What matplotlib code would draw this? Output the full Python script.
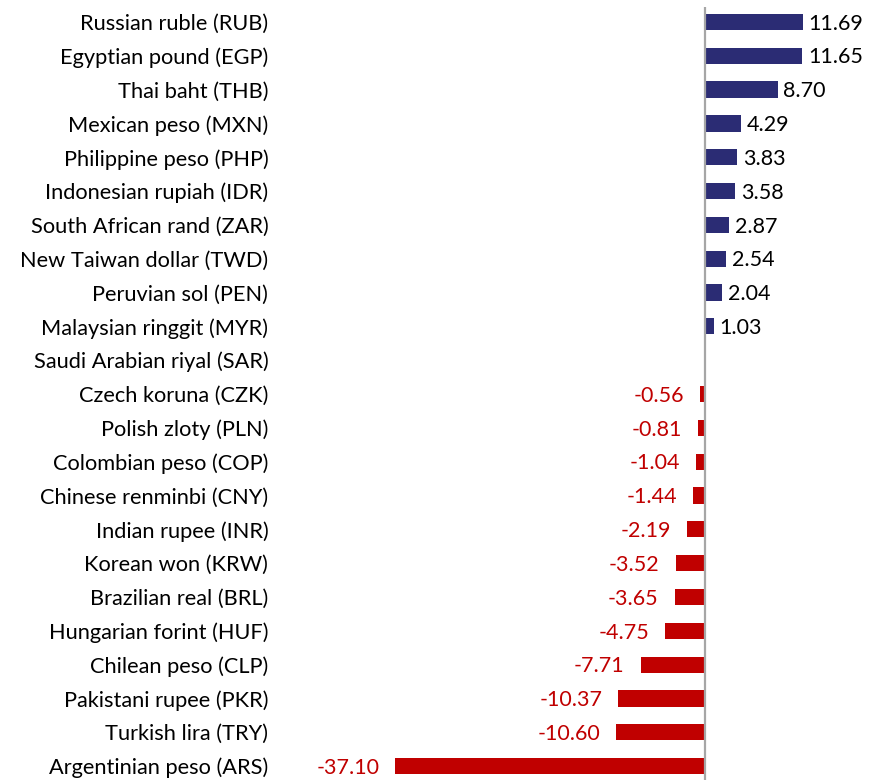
import matplotlib
matplotlib.use("Agg")
import matplotlib.pyplot as plt

currencies = [
    "Russian ruble (RUB)", "Egyptian pound (EGP)", "Thai baht (THB)",
    "Mexican peso (MXN)", "Philippine peso (PHP)", "Indonesian rupiah (IDR)",
    "South African rand (ZAR)", "New Taiwan dollar (TWD)", "Peruvian sol (PEN)",
    "Malaysian ringgit (MYR)", "Saudi Arabian riyal (SAR)", "Czech koruna (CZK)",
    "Polish zloty (PLN)", "Colombian peso (COP)", "Chinese renminbi (CNY)",
    "Indian rupee (INR)", "Korean won (KRW)", "Brazilian real (BRL)",
    "Hungarian forint (HUF)", "Chilean peso (CLP)", "Pakistani rupee (PKR)",
    "Turkish lira (TRY)", "Argentinian peso (ARS)",
]
changes = [
    11.69, 11.65, 8.70, 4.29, 3.83, 3.58, 2.87, 2.54, 2.04, 1.03, 0.0,
    -0.56, -0.81, -1.04, -1.44, -2.19, -3.52, -3.65, -4.75, -7.71,
    -10.37, -10.60, -37.10,
]

navy = "#2B2C74"
red = "#C00000"

plt.rcParams["font.family"] = ["Lato", "DejaVu Sans"]

fig = plt.figure(figsize=(8.84, 7.8), dpi=100)
ax = fig.add_axes([0.3224, 0.0, 0.6776, 0.991])

ypos = list(range(len(currencies)))
colors = [navy if v >= 0 else red for v in changes]
ax.barh(ypos, changes, height=0.48, color=colors)

# value labels, zero (SAR) gets none
for y, v in zip(ypos, changes):
    if v == 0:
        continue
    if v > 0:
        ax.text(v + 0.7, y + 0.05, "{:.2f}".format(v), va="center", ha="left",
                fontsize=15.5, color="black")
    else:
        ax.text(v - 1.9, y + 0.05, "{:.2f}".format(v), va="center", ha="right",
                fontsize=15.5, color=red)

ax.axvline(0, color="#A6A6A6", linewidth=1.6)

ax.set_xlim(-50.3, 21.44)
ax.set_ylim(22.41, -0.44)
ax.set_yticks(ypos)
ax.set_yticklabels(currencies, fontsize=15.7)
ax.tick_params(axis="y", length=0, pad=12)
ax.set_xticks([])
for s in ax.spines.values():
    s.set_visible(False)

fig.savefig("out.png", dpi=100)
